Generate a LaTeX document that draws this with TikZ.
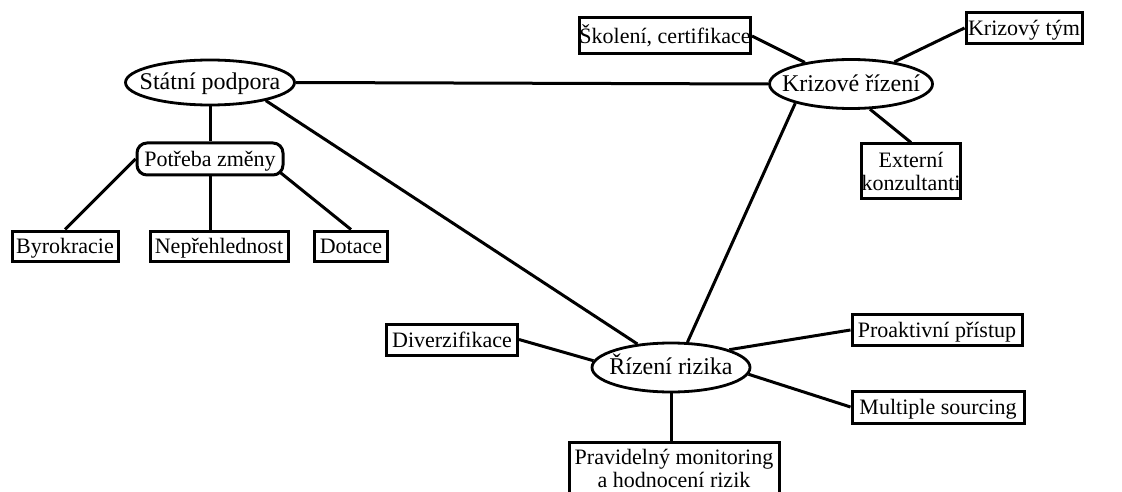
\documentclass[tikz,border=0pt]{standalone}
\usepackage{fontspec}
\setmainfont{Liberation Serif}
\usetikzlibrary{shapes.geometric,calc}
\newcommand{\ctxt}[1]{\raisebox{-0.3em}[0pt][0pt]{\makebox[0pt]{#1}}}
\tikzset{
  conn/.style={line width=3pt},
  oval/.style={draw, ellipse, line width=2.8pt, inner sep=0pt,
    font=\fontsize{24}{26}\selectfont},
  boxn/.style={draw, rectangle, line width=3pt, inner sep=0pt,
    font=\fontsize{22}{23}\selectfont, text height=17.6pt, text depth=1.8pt},
  rbox/.style={boxn, rounded corners=10pt},
  tbox/.style={draw, rectangle, line width=3pt, inner sep=0pt, align=center,
    font=\fontsize{22}{23}\selectfont}
}
\begin{document}
\begin{tikzpicture}[x=1pt,y=-1pt]
\useasboundingbox (0,0) rectangle (1122,492);
% ellipses
\node[oval, minimum width=169pt, minimum height=45pt] (sp) at (210,82.5) {\ctxt{Státní podpora}};
\node[oval, minimum width=163pt, minimum height=49pt] (kr) at (851,84) {\ctxt{Krizové řízení}};
\node[oval, minimum width=158pt, minimum height=49pt] (rr) at (671,367.5) {\ctxt{Řízení rizika}};
% left cluster
\node[rbox, minimum width=146pt, minimum height=32pt] (pz) at (210,159) {Potřeba změny};
\node[boxn, minimum width=106pt, minimum height=30pt] (by) at (65,246) {Byrokracie};
\node[boxn, minimum width=138pt, minimum height=30pt] (ne) at (219,246) {Nepřehlednost};
\node[boxn, minimum width=73pt, minimum height=30pt] (do) at (351,246) {Dotace};
% crisis cluster
\node[boxn, minimum width=166pt, minimum height=36pt] (sk) at (665,36) {Školení, certifikace};
\node[boxn, minimum width=116pt, minimum height=31pt] (kt) at (1024,28) {Krizový tým};
\node[tbox, minimum width=98pt, minimum height=54pt] (ek) at (911,171) {Externí\\konzultanti};
% risk cluster
\node[boxn, minimum width=131pt, minimum height=31pt] (dv) at (452,339.5) {Diverzifikace};
\node[boxn, minimum width=170pt, minimum height=31pt] (pp) at (937,330) {Proaktivní přístup};
\node[boxn, minimum width=172pt, minimum height=32pt] (ms) at (938,407) {Multiple sourcing};
\node[tbox, minimum width=210pt, minimum height=52pt] (pm) at (674,468) {Pravidelný monitoring\\a hodnocení rizik};
% connectors
\draw[conn] (sp.east) -- (kr.west);
\draw[conn] (sp.south) -- (pz.north);
\draw[conn] (sp.-18) -- (rr.145);
\draw[conn] (pz.west) -- (by.north);
\draw[conn] (pz.south) -- (pz.south |- ne.north);
\draw[conn, shorten <=-3pt] ($(pz.south east)+(-3,-3)$) -- (do.north);
\draw[conn] (sk.east) -- (kr.155);
\draw[conn] (kt.west) -- (kr.27);
\draw[conn] (ek.north) -- (kr.-53);
\draw[conn] (kr.199) -- (rr.57);
\draw[conn] (dv.east) -- (rr.175);
\draw[conn] (rr.17) -- (pp.west);
\draw[conn] (rr.-5) -- (ms.west);
\draw[conn] (rr.south) -- (rr.south |- pm.north);
\end{tikzpicture}
\end{document}
